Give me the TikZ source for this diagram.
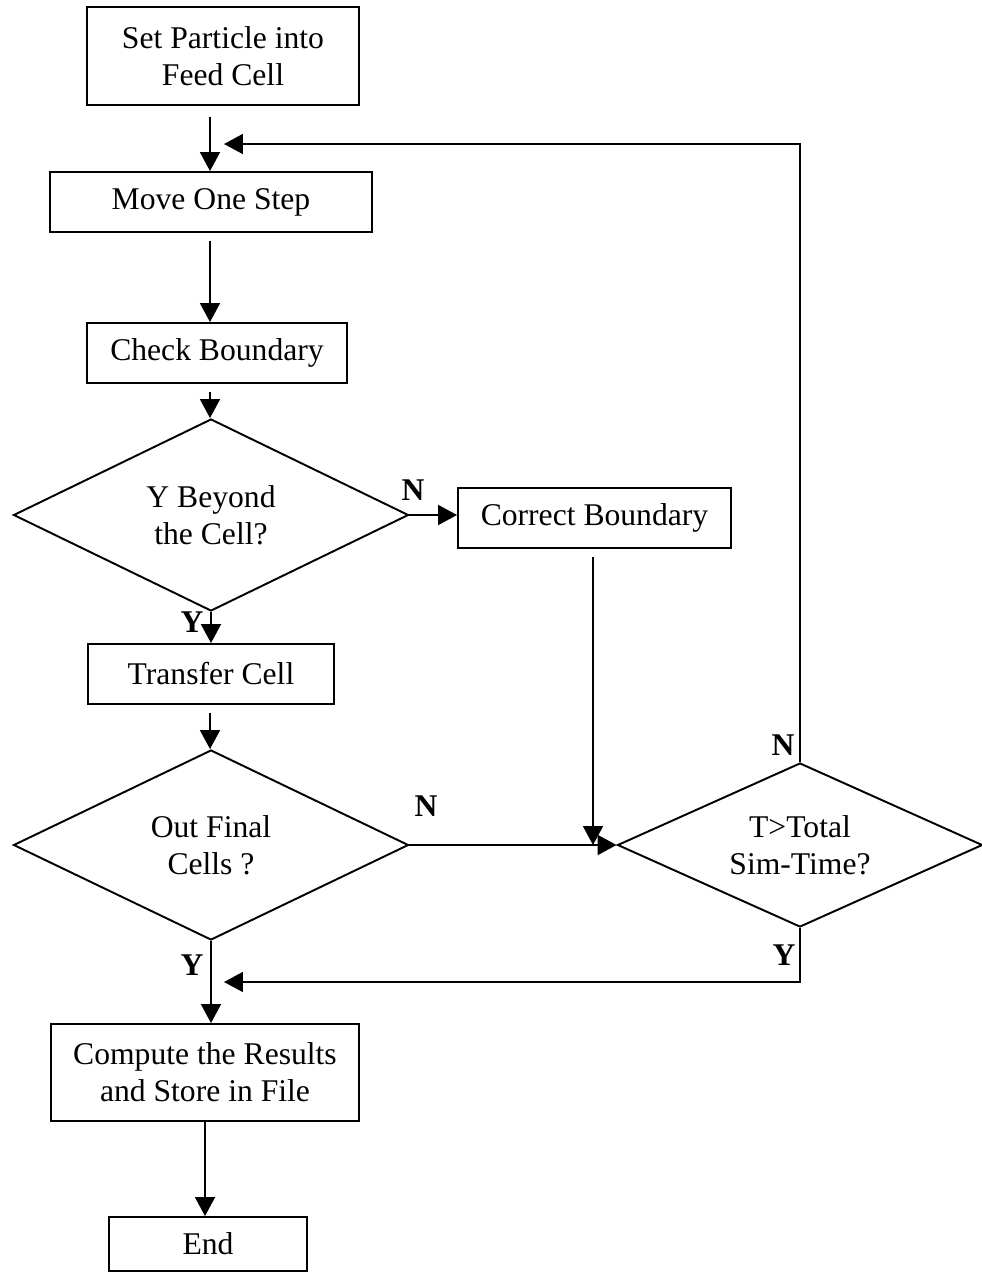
\documentclass[tikz,border=0pt]{standalone}
\usepackage{fontspec}
\setmainfont{Liberation Serif}
\usetikzlibrary{shapes.geometric,arrows.meta,calc}
\begin{document}
\begin{tikzpicture}[x=0.02cm,y={(0,-0.02cm)},
  every node/.style={font=\fontsize{18}{21}\selectfont},
  flowbox/.style={draw, rectangle, line width=1.1pt, inner sep=0pt, align=center},
  decision/.style={draw, diamond, aspect=2, line width=1.1pt, inner sep=0pt, align=center},
  arr/.style={line width=1.1pt, -{Triangle[length=0.38cm,width=0.4cm]}},
  yn/.style={font=\bfseries\fontsize{18}{21}\selectfont, inner sep=0pt}
]
\useasboundingbox (0,0) rectangle (982,1272);

% process steps and decisions
\node[flowbox, minimum width=272*0.02cm, minimum height=98*0.02cm] (set) at (223,56) {Set Particle into\\Feed Cell};
\node[flowbox, minimum width=322*0.02cm, minimum height=60*0.02cm] (move) at (211,202) {Move One Step};
\node[flowbox, minimum width=260*0.02cm, minimum height=60*0.02cm] (check) at (217,353) {Check Boundary};
\node[decision, minimum width=395*0.02cm, minimum height=192*0.02cm] (d1) at (211,515) {Y Beyond\\the Cell?};
\node[flowbox, minimum width=273*0.02cm, minimum height=60*0.02cm] (correct) at (594.5,518) {Correct Boundary};
\node[flowbox, minimum width=246*0.02cm, minimum height=60*0.02cm] (transfer) at (211,674) {Transfer Cell};
\node[decision, minimum width=395*0.02cm, minimum height=190*0.02cm] (d2) at (211,845) {Out Final\\Cells ?};
\node[decision, minimum width=365*0.02cm, minimum height=164*0.02cm] (d3) at (800,845) {T>Total\\Sim-Time?};
\node[flowbox, minimum width=308*0.02cm, minimum height=97*0.02cm] (compute) at (205,1072.5) {Compute the Results\\and Store in File};
\node[flowbox, minimum width=198*0.02cm, minimum height=54*0.02cm] (finish) at (208,1244) {End};

% arrow start points and free ends
\coordinate (a1) at (210,117);
\coordinate (a2) at (210,241);
\coordinate (a3) at (210,392);
\coordinate (a4) at (210,713);
\coordinate (c1) at (593,557);
\coordinate (loopend) at (224,144);
\coordinate (yend) at (224,982);

% connectors
\draw[arr] (a1) -- (a1 |- move.north);
\draw[arr] (a2) -- (a2 |- check.north);
\draw[arr] (a3) -- (a3 |- d1.north);
\draw[arr] (d1.south) -- (d1.south |- transfer.north);
\draw[arr] (a4) -- (a4 |- d2.north);
\draw[arr] (d1.east) -- (d1.east -| correct.west);
\draw[arr] (c1) -- (c1 |- d3.west);
\draw[arr] (d2.east) -- (d3.west);
\draw[arr] (d3.north) |- (loopend);
\draw[arr] (d3.south) |- (yend);
\draw[arr] (d2.south) -- (d2.south |- compute.north);
\draw[arr] (compute.south) -- (compute.south |- finish.north);

% branch labels
\node[yn] (n1) at (413,490) {N};
\node[yn] (y1) at (192,622) {Y};
\node[yn] (n2) at (426,806) {N};
\node[yn] (n3) at (783,745) {N};
\node[yn] (y2) at (192,965) {Y};
\node[yn] (y3) at (784,955) {Y};
\end{tikzpicture}
\end{document}
